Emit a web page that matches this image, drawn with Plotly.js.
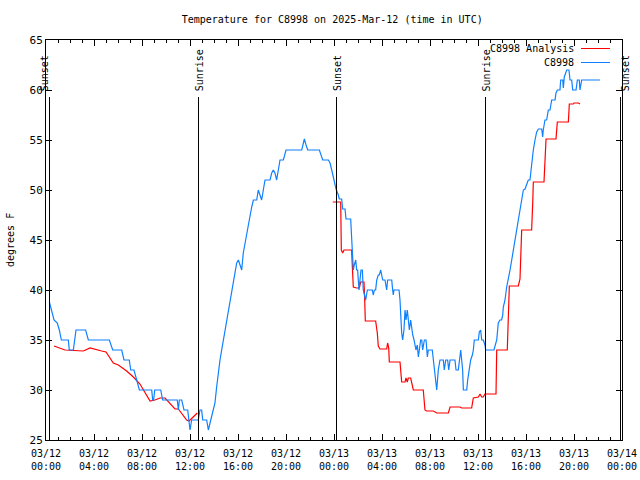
<!DOCTYPE html>
<html>
<head>
<meta charset="utf-8">
<script src="https://cdn.plot.ly/plotly-3.0.1.min.js"></script>
<style>
html,body{margin:0;padding:0;background:#fff;}
#chart{width:640px;height:480px;}
#chart .layer-above path, #chart .xlines-above, #chart .ylines-above, #chart .xtick, #chart .ytick {shape-rendering: crispEdges;}
</style>
</head>
<body>
<div id="chart"></div>
<script>
// Hours since 2025-03-12 00:00 UTC
const blueHours = [0.28,0.47,0.67,0.94,1.11,1.28,1.86,1.94,2.28,2.5,3.3,3.53,5.28,5.56,6.31,6.5,6.94,7.06,7.33,7.56,7.78,8.81,8.89,8.97,9.06,9.56,9.72,10.94,11.03,11.11,11.31,11.5,11.81,12.0,12.14,12.69,12.83,12.97,13.06,13.39,13.53,13.67,13.81,13.94,14.08,14.22,14.36,14.5,14.64,14.78,14.92,15.06,15.19,15.33,15.47,15.61,15.75,15.89,16.03,16.17,16.31,16.44,16.58,16.72,16.86,17.0,17.14,17.28,17.56,17.69,17.83,17.97,18.11,18.25,18.67,18.81,18.94,19.08,19.22,19.36,19.5,19.78,20.0,21.31,21.44,21.53,21.67,21.81,22.78,23.06,23.53,23.67,23.81,23.94,24.08,24.17,24.36,24.44,24.64,24.72,24.92,25.0,25.39,25.47,25.53,25.61,25.69,25.81,25.89,25.97,26.08,26.17,26.25,26.36,26.44,26.58,26.64,26.78,27.19,27.28,27.36,27.47,27.56,27.69,27.78,27.89,27.97,28.06,28.25,28.33,28.39,28.47,28.81,28.89,28.94,29.0,29.42,29.5,29.56,29.64,29.72,29.83,29.92,30.0,30.11,30.19,30.28,30.39,30.47,30.56,30.67,30.75,30.83,30.94,31.03,31.11,31.22,31.31,31.39,31.53,31.67,31.78,31.86,32.19,32.28,32.42,32.5,32.56,32.69,32.78,32.83,33.11,33.19,33.31,33.47,33.56,33.67,34.08,34.17,34.36,34.44,34.56,34.64,34.72,34.78,35.06,35.14,35.25,35.39,35.53,35.61,35.69,36.03,36.11,36.22,36.31,36.44,36.58,36.64,37.33,37.42,37.56,37.69,37.83,37.97,38.06,38.11,38.25,38.39,38.53,38.67,38.81,38.94,39.08,39.22,39.36,39.5,39.64,39.78,39.92,40.11,40.19,40.33,40.42,40.47,40.61,40.75,40.89,41.03,41.31,41.39,41.44,41.58,41.72,41.86,42.0,42.14,42.42,42.5,42.61,42.83,42.89,43.06,43.11,43.19,43.39,43.58,43.67,43.81,43.89,44.17,44.28,44.44,44.5,44.64,46.17];
const blueTemps = [38.8,38,37,36.7,36,35,35,34,34,36,36,35,35,34,34,33,33,32,32,31,30,30,29,29,30,30,29,29,28,29,29,28,28,26,27,27,28,28,27,27,26,26.7,27.3,28,28.7,30.3,32,33,34,35,36,37,38,39,40,41,42,42.7,43,42.5,42,43.7,44.7,45.7,46.7,47.3,48.3,49,49,50,49.5,49,50,51,51,51.7,52,51.7,51,52,53,53,54,54,54.7,55.1,54.5,54,54,53,53,52.7,52,51.3,50.7,50.1,49.5,49.1,49.1,48.1,48.1,47.1,47.1,45.1,43,42,42.5,43,42,42,40,41,42,42,40,39.3,39,40,40,39.5,40,40,41,41.5,41.5,42,41.3,41,41,40.5,40,41,41,40,39.5,40,40,39,37,35.7,35,36,38,37,38,37,36,37,36,35.5,35,34.3,34,34.5,33.3,34,35,35,34,35,35,33.3,34,34,33,31.7,30.7,30,32,32.5,33,33,32,33,33,32,33,33,32,32,33,34,33,32,30,30,31,32,33,33.5,34,35,35,35.8,36,35,35,34.5,34,34,34.5,35,36.7,37,37,37.5,38.3,39,40.3,41,42,43,44,45.3,46,47,48,49,50,50.1,50.7,51,51,52,52.7,54,55,55.8,56.1,56.1,55.3,56,57,57,58,58,59,59,59.7,60,60,61,61,60.2,61.3,62,62,61,61,60,60,61,61,60,61,61];

const redHours = [0.67,1.58,3.11,3.67,4.64,5.0,5.61,6.03,6.72,7.28,7.83,8.11,8.67,9.08,9.5,9.92,10.47,10.75,11.03,11.44,11.72,11.92,12.28,12.61,18,23.9,24.56,24.61,24.72,24.83,25.47,25.53,25.61,25.89,26.11,26.22,26.5,26.56,26.61,27.47,27.61,27.69,27.83,28.39,28.47,28.56,28.61,29.5,29.58,29.64,29.92,30.0,30.11,30.19,30.39,30.47,30.61,31.44,31.5,31.58,31.72,32.28,32.56,33.53,33.67,34.5,34.64,35.47,35.61,36.03,36.17,36.31,36.44,36.58,37.5,37.56,38.44,38.53,38.61,39.36,39.5,39.64,40.47,40.56,40.61,41.5,41.58,41.67,42.5,42.61,43.53,43.61,43.94,44.0,44.36,44.5];
const redTemps = [34.4,34,33.9,34.2,33.9,33.8,32.7,32.5,31.9,31.3,30.6,30,28.9,29,29.2,29.2,28.5,28.1,28.1,27.5,27,26.9,27.3,27.7,null,48.8,48.8,44,43.7,44,44,42.3,40.3,40.2,40.2,40.8,40.8,39,36.9,36.9,35.7,34.4,34.1,34.1,34.7,34.2,32.8,32.8,31.7,30.8,30.8,31.2,30.8,31.2,31.2,30.8,30.0,30.0,29.0,28.0,27.9,27.9,27.7,27.7,28.3,28.3,28.2,28.2,29.2,29.3,29.6,29.3,29.3,29.6,29.6,34.0,34.0,37.7,40.4,40.4,41.1,46,46,48.7,50.8,50.8,53,55.1,55.1,56.8,56.8,58.6,58.6,58.7,58.7,58.6];

const sunLabels = ["Sunset","Sunrise","Sunset","Sunrise","Sunset"];
const sunHours = [0.28,12.69,24.17,36.62,47.85];

const xTickVals = [0,4,8,12,16,20,24,28,32,36,40,44,48];
const xTickText = ["03/12<br>00:00","03/12<br>04:00","03/12<br>08:00","03/12<br>12:00","03/12<br>16:00","03/12<br>20:00","03/13<br>00:00","03/13<br>04:00","03/13<br>08:00","03/13<br>12:00","03/13<br>16:00","03/13<br>20:00","03/14<br>00:00"];

const seriesNames = ["C8998 Analysis","C8998"];
const seriesColors = ["#ff0000","#0f80ff"];

const FONT = "DejaVu Sans Mono, Liberation Mono, monospace";

const traces = [
  {x: redHours, y: redTemps, type: "scatter", mode: "lines", name: seriesNames[0],
   line: {color: seriesColors[0], width: 1.2}, connectgaps: false},
  {x: blueHours, y: blueTemps, type: "scatter", mode: "lines", name: seriesNames[1],
   line: {color: seriesColors[1], width: 1.2}}
];

const shapes = [];
const annotations = [];
const labelShift = [-5, 1, 1, 1, 5];
sunHours.forEach((h, i) => {
  shapes.push({type: "line", xref: "x", yref: "y", x0: h, x1: h, y0: 25, y1: 59.3,
               line: {color: "black", width: 1}});
  annotations.push({x: h, y: 59.8, xref: "x", yref: "y", text: sunLabels[i], textangle: -90,
                    showarrow: false, xanchor: "center", yanchor: "bottom", xshift: labelShift[i],
                    font: {family: FONT, size: 10, color: "black"}, borderpad: 0});
});
// legend (gnuplot style: text then sample line)
const legY = [0.978, 0.944];
seriesNames.forEach((n, i) => {
  annotations.push({x: 0.918, y: legY[i], xref: "paper", yref: "paper", text: n, showarrow: false,
                    xanchor: "right", yanchor: "middle", font: {family: FONT, size: 10, color: "black"}, borderpad: 0});
  shapes.push({type: "line", xref: "paper", yref: "paper", x0: 0.929, x1: 0.979, y0: legY[i], y1: legY[i],
               line: {color: seriesColors[i], width: 1.2}});
});
annotations.push({x: -0.0625, y: 0.5, xref: "paper", yref: "paper", text: "degrees F", textangle: -90,
                  showarrow: false, xanchor: "center", yanchor: "middle",
                  font: {family: FONT, size: 10, color: "black"}});

const layout = {
  width: 640, height: 480,
  margin: {l: 46, r: 18, t: 40, b: 40, pad: 0},
  paper_bgcolor: "white", plot_bgcolor: "white",
  showlegend: false,
  font: {family: FONT, size: 10, color: "black"},
  title: {text: "Temperature for C8998 on 2025-Mar-12 (time in UTC)", x: 0.519, xanchor: "center",
          y: 0.96, yanchor: "middle", yref: "container", font: {family: FONT, size: 10, color: "black"}},
  xaxis: {range: [0, 48], tickmode: "array", tickvals: xTickVals, ticktext: xTickText,
          showgrid: false, zeroline: false, showline: true, linecolor: "black", linewidth: 1,
          mirror: "ticks", ticks: "inside", ticklen: 6, tickcolor: "black", tickwidth: 1,
          ticklabelstandoff: 4,
          tickfont: {family: FONT, size: 10, color: "black"},
          minor: {dtick: 1, tick0: 0, ticks: "inside", ticklen: 3, tickcolor: "black", showgrid: false}},
  yaxis: {range: [25, 65], dtick: 5, tick0: 25, showgrid: false, zeroline: false, showline: true,
          linecolor: "black", linewidth: 1, mirror: "ticks", ticks: "inside", ticklen: 6,
          tickcolor: "black", tickwidth: 1, tickfont: {family: FONT, size: 11, color: "black"}},
  shapes: shapes,
  annotations: annotations
};

Plotly.newPlot("chart", traces, layout, {staticPlot: true, displayModeBar: false});
</script>
</body>
</html>
